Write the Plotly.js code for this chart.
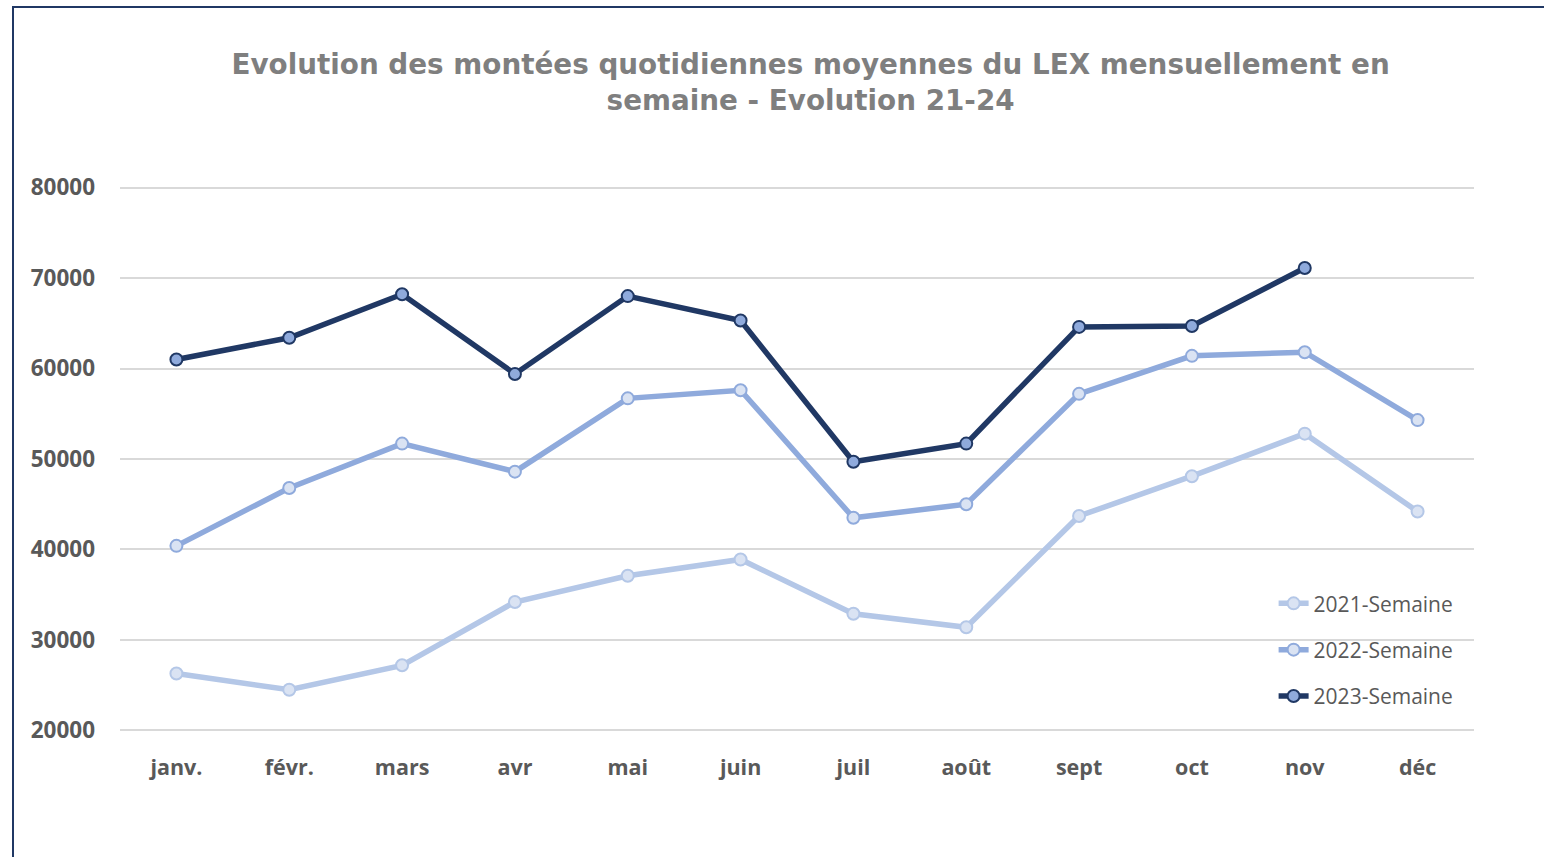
<!DOCTYPE html>
<html>
<head>
<meta charset="utf-8">
<script src="https://cdn.plot.ly/plotly-3.0.1.min.js"></script>
<style>
  body { margin: 0; background: #fff; overflow: hidden; }
  #frame { position: absolute; left: 12px; top: 6px; width: 1600px; height: 900px; border: 2px solid #203864; box-sizing: border-box; }
  #chart { position: absolute; left: 0; top: 0; width: 1544px; height: 857px; }
</style>
</head>
<body>
<div id="frame"></div>
<div id="chart"></div>
<script>
// months on the x axis
var months = ['janv.', 'févr.', 'mars', 'avr', 'mai', 'juin', 'juil', 'août', 'sept', 'oct', 'nov', 'déc'];

// daily average boardings, weekdays
var sem2021 = [26300, 24500, 27200, 34200, 37100, 38900, 32900, 31400, 43700, 48100, 52800, 44200];
var sem2022 = [40400, 46800, 51700, 48600, 56700, 57600, 43500, 45000, 57200, 61400, 61800, 54300];
var sem2023 = [61000, 63400, 68200, 59400, 68000, 65300, 49700, 51700, 64600, 64700, 71100];

var seriesNames = ['2021-Semaine', '2022-Semaine', '2023-Semaine'];

function makeTrace(name, values, lineColor, fillColor) {
    return {
        x: months.slice(0, values.length),
        y: values,
        name: name,
        legendgroup: name,
        type: 'scatter',
        mode: 'lines+markers',
        line: { color: lineColor, width: 5.5 },
        marker: { size: 12, color: fillColor, line: { color: lineColor, width: 2 } }
    };
}

var traces = [
    makeTrace(seriesNames[0], sem2021, '#b4c7e7', '#dae3f3'),
    makeTrace(seriesNames[1], sem2022, '#8faadc', '#dae3f3'),
    makeTrace(seriesNames[2], sem2023, '#203864', '#8faadc')
];

var layout = {
    width: 1544,
    height: 857,
    margin: { l: 120, r: 70, t: 182.5, b: 121.5 },
    paper_bgcolor: 'rgba(0,0,0,0)',
    plot_bgcolor: 'rgba(0,0,0,0)',
    title: {
        text: '<b>Evolution des montées quotidiennes moyennes du LEX mensuellement en<br>semaine - Evolution 21-24</b>',
        font: { family: 'DejaVu Sans', size: 27.8, color: '#7f7f7f' },
        x: 0.525,
        xanchor: 'center',
        y: 1 - 74 / 857,
        yanchor: 'top'
    },
    xaxis: {
        type: 'category',
        range: [-0.5, 11.5],
        showgrid: false,
        zeroline: false,
        showline: false,
        ticks: '',
        ticklabelstandoff: 17,
        tickfont: { family: 'Open Sans', size: 21.5, color: '#595959', weight: 'bold' },
        fixedrange: true
    },
    yaxis: {
        range: [19500, 80500],
        tickvals: [20000, 30000, 40000, 50000, 60000, 70000, 80000],
        tickformat: 'd',
        showgrid: true,
        gridcolor: '#d9d9d9',
        gridwidth: 1.5,
        zeroline: false,
        showline: false,
        ticks: '',
        ticklabelstandoff: 24,
        tickfont: { family: 'Open Sans', size: 22.5, color: '#595959', weight: 'bold' },
        fixedrange: true
    },
    showlegend: true,
    legend: {
        x: 0.852,
        xanchor: 'left',
        y: 0.275,
        yanchor: 'top',
        traceorder: 'grouped',
        tracegroupgap: 16,
        bgcolor: 'rgba(0,0,0,0)',
        font: { family: 'Open Sans', size: 21, color: '#595959' }
    }
};

Plotly.newPlot('chart', traces, layout, { displayModeBar: false });
</script>
</body>
</html>
